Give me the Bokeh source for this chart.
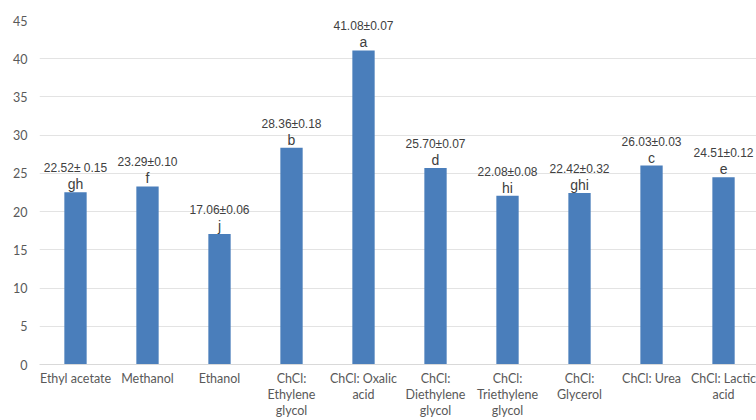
from bokeh.plotting import figure
from bokeh.models import Range1d, FixedTicker, ColumnDataSource
from bokeh.core.properties import value
from bokeh.embed import file_html
from bokeh.resources import INLINE

categories = ["Ethyl acetate", "Methanol", "Ethanol", "ChCl:\nEthylene\nglycol",
              "ChCl: Oxalic\nacid", "ChCl:\nDiethylene\nglycol", "ChCl:\nTriethylene\nglycol",
              "ChCl:\nGlycerol", "ChCl: Urea", "ChCl: Lactic\nacid"]
values = [22.52, 23.29, 17.06, 28.36, 41.08, 25.70, 22.08, 22.42, 26.03, 24.51]
value_labels = ["22.52± 0.15", "23.29±0.10", "17.06±0.06", "28.36±0.18", "41.08±0.07",
                "25.70±0.07", "22.08±0.08", "22.42±0.32", "26.03±0.03", "24.51±0.12"]
letters = ["gh", "f", "j", "b", "a", "d", "hi", "ghi", "c", "e"]
y_ticks = [0, 5, 10, 15, 20, 25, 30, 35, 40, 45]

xpos = [i + 0.5 for i in range(len(categories))]
src = ColumnDataSource(dict(x=xpos, top=values, vlab=value_labels, let=letters))

p = figure(width=756, height=420, output_backend="svg", toolbar_location=None,
           x_range=Range1d(0, 9.958), y_range=Range1d(0, 45),
           min_border_left=39, min_border_right=0, min_border_top=20, min_border_bottom=55)
p.outline_line_color = None
p.background_fill_color = "white"
p.border_fill_color = "white"

p.vbar(x="x", top="top", width=0.31, bottom=0, source=src,
       fill_color="#4a7ebb", line_color=None)

p.text(x="x", y="top", text="vlab", source=src, y_offset=-24,
       text_align="center", text_baseline="middle",
       text_font=value("Liberation Sans"), text_font_size="12px", text_color="#404040")
p.text(x="x", y="top", text="let", source=src, y_offset=-8,
       text_align="center", text_baseline="middle",
       text_font=value("Liberation Sans"), text_font_size="14px", text_color="#404040")

p.xaxis.ticker = FixedTicker(ticks=xpos)
p.xaxis.major_label_overrides = {x: c for x, c in zip(xpos, categories)}
p.xaxis.major_tick_line_color = None
p.xaxis.major_tick_out = 0
p.xaxis.major_tick_in = 0
p.xaxis.minor_tick_line_color = None
p.xaxis.axis_line_color = "#d9d9d9"
p.xaxis.major_label_text_font = "Lato"
p.xaxis.major_label_text_font_size = "12.5px"
p.xaxis.major_label_text_line_height = 1.08
p.xaxis.major_label_text_color = "#595959"
p.xaxis.major_label_standoff = 6
p.xgrid.grid_line_color = None

p.yaxis.ticker = FixedTicker(ticks=y_ticks)
p.yaxis.axis_line_color = None
p.yaxis.major_tick_line_color = None
p.yaxis.major_tick_out = 0
p.yaxis.major_tick_in = 0
p.yaxis.minor_tick_line_color = None
p.yaxis.major_label_text_font = "Lato"
p.yaxis.major_label_text_font_size = "12.5px"
p.yaxis.major_label_text_color = "#595959"
p.yaxis.major_label_standoff = 12
p.ygrid.grid_line_color = "#e3e3e3"
p.ygrid.grid_line_width = 1

open("out.html", "w").write(file_html(p, INLINE))
